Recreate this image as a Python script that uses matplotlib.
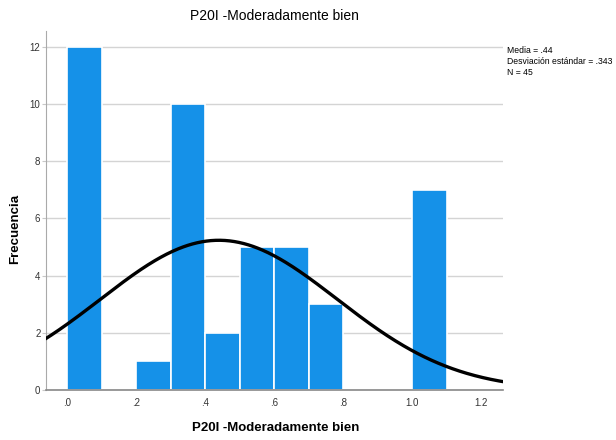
import numpy as np
import matplotlib
matplotlib.use('Agg')
import matplotlib.pyplot as plt

plt.rcParams['font.family'] = ['Liberation Sans', 'DejaVu Sans']

# Histogram data (bin left edges, width .1)
bin_lefts = [0.0, 0.2, 0.3, 0.4, 0.5, 0.6, 0.7, 1.0]
counts = [12, 1, 10, 2, 5, 5, 3, 7]
bin_width = 0.1
mean = 0.44
std = 0.343
n = 45

xtick_vals = [0.0, 0.2, 0.4, 0.6, 0.8, 1.0, 1.2]
xtick_labels = ['.0', '.2', '.4', '.6', '.8', '1.0', '1.2']
ytick_vals = [0, 2, 4, 6, 8, 10, 12]

BAR_COLOR = '#1591e8'

fig = plt.figure(figsize=(6.16, 4.4), dpi=100)
ax = fig.add_axes([0.0747, 0.1136, 0.742, 0.816])

ax.bar(bin_lefts, counts, width=bin_width, align='edge', color=BAR_COLOR,
       edgecolor='white', linewidth=1.2, zorder=2)

# Normal curve scaled to the histogram
xs = np.linspace(-0.07, 1.28, 400)
ys = n * bin_width / (std * np.sqrt(2 * np.pi)) * np.exp(-0.5 * ((xs - mean) / std) ** 2)
ax.plot(xs, ys, color='black', linewidth=2.4, zorder=3)

ax.set_xlim(-0.061, 1.264)
ax.set_ylim(0, 12.55)
ax.set_xticks(xtick_vals)
ax.set_xticklabels(xtick_labels)
ax.set_yticks(ytick_vals)
ax.tick_params(axis='x', length=0, labelsize=7, colors='#333333', pad=6)
ax.tick_params(axis='y', length=3, width=0.8, color='#c8c8c8', labelsize=7, colors='#333333', pad=1)
ax.yaxis.grid(True, color='#d4d4d4', linewidth=1.0, zorder=0)
ax.set_axisbelow(True)

for side in ['top', 'right']:
    ax.spines[side].set_visible(False)
ax.spines['left'].set_color('#aaaaaa')
ax.spines['bottom'].set_color('#888888')
ax.spines['bottom'].set_linewidth(1.2)

ax.set_title('P20I -Moderadamente bien', fontsize=10, pad=8)
fig.text(0.448, 0.027, 'P20I -Moderadamente bien', fontsize=9.5, fontweight='bold',
         ha='center', va='center')
fig.text(0.025, 0.48, 'Frecuencia', fontsize=9.5, fontweight='bold',
         ha='center', va='center', rotation=90)

fig.text(0.823, 0.895, 'Media = .44\nDesviación estándar = .343\nN = 45',
         fontsize=6.2, va='top', ha='left', linespacing=1.25)

fig.savefig('out.png', dpi=100)
